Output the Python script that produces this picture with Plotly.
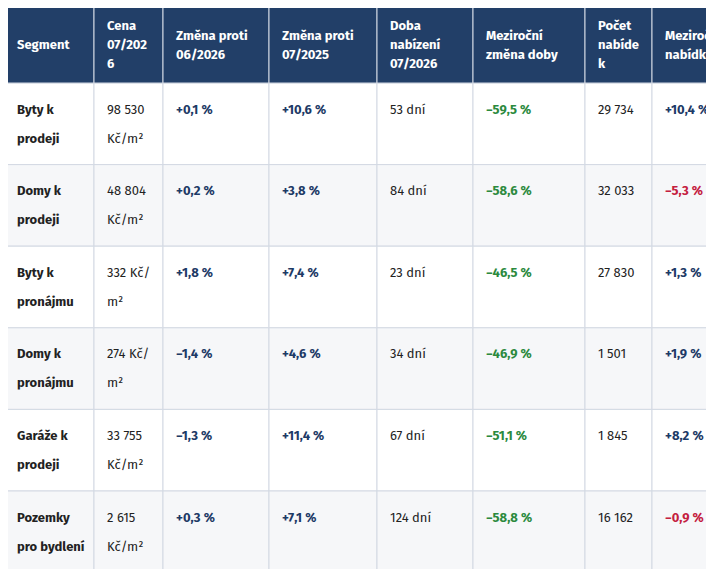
import plotly.graph_objects as go

headers = ["Segment", "Cena<br>07/202<br>6", "Změna proti<br>06/2026", "Změna proti<br>07/2025",
           "Doba<br>nabízení<br>07/2026", "Meziroční<br>změna doby", "Počet<br>nabíde<br>k", "Meziroční<br>nabídky"]
segments = ["Byty k<br>prodeji", "Domy k<br>prodeji", "Byty k<br>pronájmu", "Domy k<br>pronájmu",
            "Garáže k<br>prodeji", "Pozemky<br>pro bydlení"]
prices = ["98 530<br>Kč/m²", "48 804<br>Kč/m²", "332 Kč/<br>m²", "274 Kč/<br>m²", "33 755<br>Kč/m²", "2 615<br>Kč/m²"]
mom = ["+0,1 %", "+0,2 %", "+1,8 %", "−1,4 %", "−1,3 %", "+0,3 %"]
yoy = ["+10,6 %", "+3,8 %", "+7,4 %", "+4,6 %", "+11,4 %", "+7,1 %"]
days = ["53 dní", "84 dní", "23 dní", "34 dní", "67 dní", "124 dní"]
days_yoy = ["−59,5 %", "−58,6 %", "−46,5 %", "−46,9 %", "−51,1 %", "−58,8 %"]
offers = ["29 734", "32 033", "27 830", "1 501", "1 845", "16 162"]
offers_yoy = ["+10,4 %", "−5,3 %", "+1,3 %", "+1,9 %", "+8,2 %", "−0,9 %"]

col_edges = [4, 94, 163, 269, 377, 473, 585, 652, 760]
header_top, header_bottom = 4, 83
row_h = 81.6

NAVY = "#223f68"
TXT = "#222222"
BLUE = "#1d3a66"
GREEN = "#2c8a3e"
RED = "#c4203f"
GRID = "#d3d9e3"

fig = go.Figure()
shapes = []
ann = []
font = "Fira Sans, Noto Sans, sans-serif"

# header
for c in range(len(headers)):
    x0, x1 = col_edges[c], col_edges[c + 1]
    shapes.append(dict(type="rect", x0=x0, x1=x1, y0=header_top, y1=header_bottom,
                       fillcolor=NAVY, line=dict(color=GRID, width=1)))
    lines = headers[c].split("<br>")
    mid = (header_top + header_bottom) / 2 + 1
    for i, t in enumerate(lines):
        y = mid + (i - (len(lines) - 1) / 2) * 19
        ann.append(dict(x=x0 + 11, y=y, text="<b>%s</b>" % t, xanchor="left", yanchor="middle",
                        showarrow=False, font=dict(color="white", size=13, family=font)))

columns = [segments, prices, mom, yoy, days, days_yoy, offers, offers_yoy]


def cell_style(c, val):
    if c == 0:
        return TXT, True
    if c in (1, 4, 6):
        return TXT, False
    if c == 5:
        return GREEN, True
    if c == 7:
        return (RED if val.startswith("−") else BLUE), True
    return BLUE, True


for r in range(len(segments)):
    y0 = header_bottom + r * row_h
    bg = "white" if r % 2 == 0 else "#f6f7f9"
    for c in range(len(columns)):
        x0, x1 = col_edges[c], col_edges[c + 1]
        shapes.append(dict(type="rect", x0=x0, x1=x1, y0=y0, y1=y0 + row_h,
                           fillcolor=bg, line=dict(color=GRID, width=1), layer="below"))
        val = columns[c][r]
        color, bold = cell_style(c, val)
        for i, t in enumerate(val.split("<br>")):
            txt = "<b>%s</b>" % t if bold else t
            ann.append(dict(x=x0 + 11, y=y0 + 26 + i * 29, text=txt, xanchor="left", yanchor="middle",
                            showarrow=False, font=dict(color=color, size=13, family=font)))

# the page adds an 8px body margin, so shift the view to compensate
fig.update_layout(
    width=714, height=569, margin=dict(l=0, r=0, t=0, b=0),
    paper_bgcolor="white", plot_bgcolor="white",
    xaxis=dict(range=[8, 722], visible=False, fixedrange=True),
    yaxis=dict(range=[577, 8], visible=False, fixedrange=True),
    shapes=shapes, annotations=ann, showlegend=False,
)
fig.write_html("out.html")
